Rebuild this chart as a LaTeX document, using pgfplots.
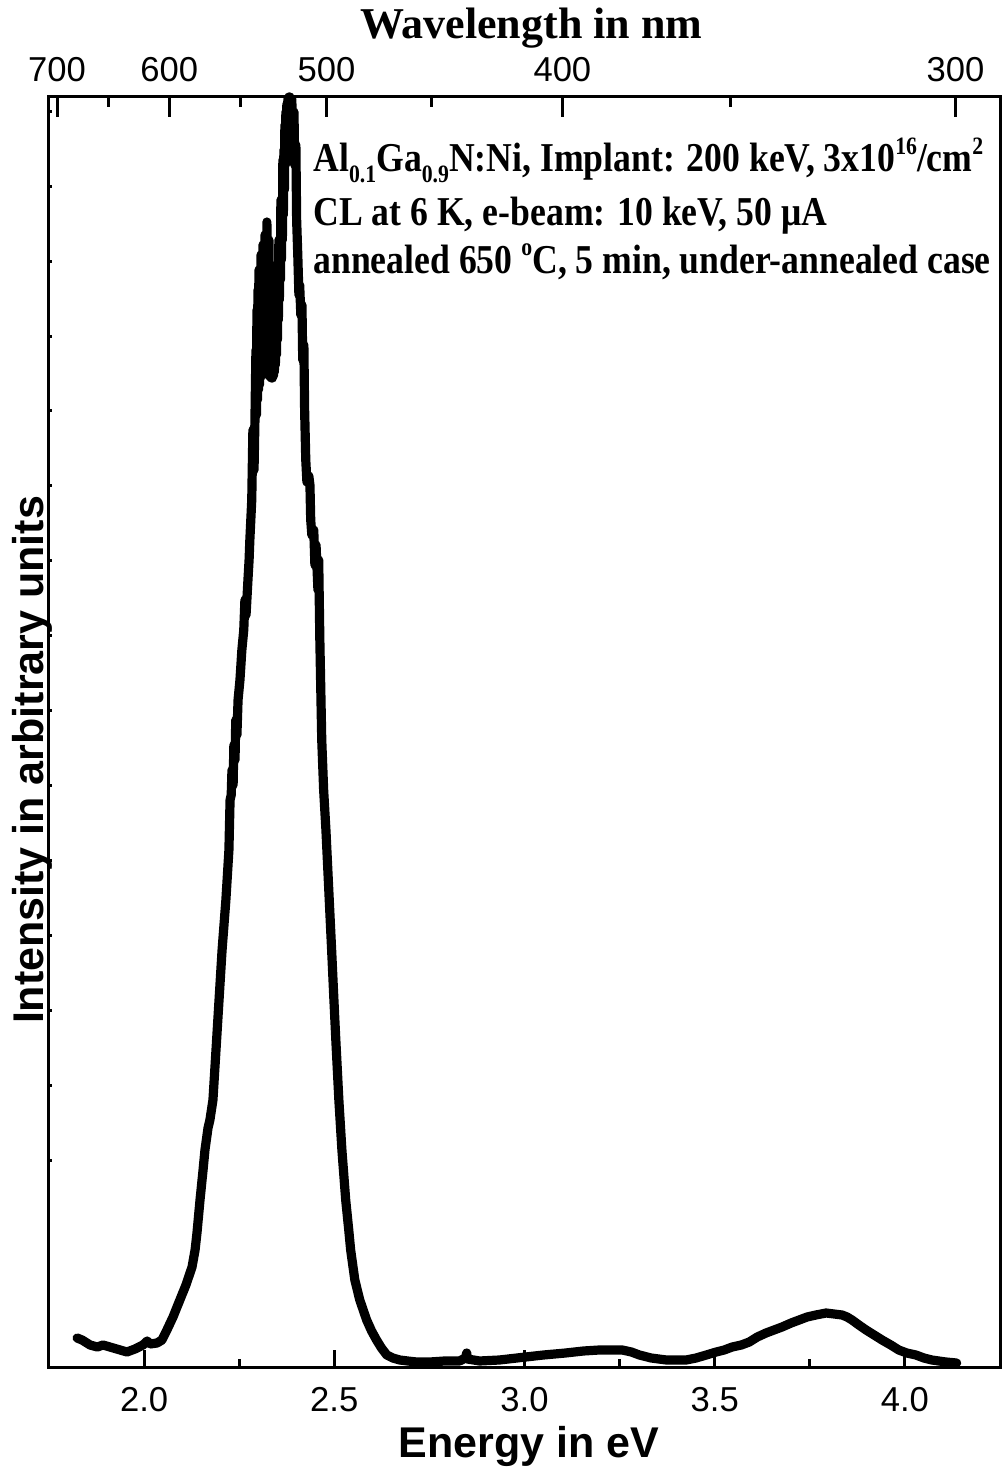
\documentclass[border=0pt]{standalone}
\usepackage{fontspec}
\setmainfont{Liberation Serif}
\newfontfamily\arial{Liberation Sans}
\usepackage{graphicx}
\usepackage{pgfplots}
\pgfplotsset{compat=1.18}
\usepackage{pgfplotstable}

% small raised / lowered indices for the sample description
\newcommand\lo[1]{\raisebox{-0.55ex}{\fontsize{12.5}{12.5}\selectfont #1}}
\newcommand\hi[1]{\raisebox{0.95ex}{\fontsize{12.5}{12.5}\selectfont #1}}
\newcommand\infoline[1]{\scalebox{0.87}[1]{\bfseries\fontsize{20.5}{22}\selectfont #1}}

% CL spectrum: photon energy (eV) vs. intensity (arb. units)
\pgfplotstableread{
E I
1.824 29
1.837 27
1.858 22
1.877 20
1.892 22
1.910 20
1.937 17
1.955 15
1.976 18
1.997 22
2.008 26
2.016 23
2.034 24
2.047 27
2.060 37
2.076 50
2.094 67
2.110 82
2.126 100
2.134 117
2.139 134
2.147 167
2.155 197
2.160 217
2.168 239
2.173 247
2.181 267
2.189 317
2.197 367
2.205 417
2.215 467
2.223 517
2.226 567
2.229 572
2.231 597
2.234 582
2.236 622
2.239 607
2.241 647
2.244 632
2.247 667
2.252 687
2.257 717
2.262 737
2.265 767
2.268 752
2.273 787
2.276 807
2.278 827
2.283 867
2.286 937
2.289 897
2.2914 947
2.2940 1017
2.2953 952
2.2966 1057
2.2979 967
2.2992 1077
2.3005 977
2.3018 1097
2.3032 982
2.3045 1067
2.3058 989
2.3071 1112
2.3084 995
2.3097 1087
2.3110 997
2.3123 1122
2.3136 1002
2.3150 1067
2.3163 1002
2.3176 1132
2.3189 999
2.3202 1102
2.3215 997
2.3228 1145
2.3241 995
2.3255 1077
2.3268 992
2.3281 1127
2.3294 991
2.3307 1027
2.3320 990
2.3333 1102
2.3346 989
2.3360 1002
2.3373 989
2.3386 1067
2.3399 991
2.3412 1037
2.3425 995
2.3438 1077
2.3451 1002
2.3465 1047
2.3478 1012
2.3491 1097
2.3504 1027
2.3517 1072
2.3530 1047
2.3543 1127
2.3556 1067
2.3570 1117
2.3583 1087
2.3596 1167
2.3609 1107
2.3622 1157
2.3635 1127
2.3648 1207
2.3661 1152
2.3675 1217
2.3688 1177
2.3701 1242
2.3714 1202
2.3727 1255
2.3740 1222
2.3753 1263
2.3766 1242
2.3780 1268
2.3793 1255
2.3806 1270
2.3832 1270
2.386 1259
2.388 1268
2.391 1242
2.394 1255
2.396 1202
2.399 1222
2.401 1147
2.404 1112
2.407 1072
2.409 1082
2.412 1052
2.415 1062
2.417 1007
2.420 1022
2.422 957
2.425 907
2.428 885
2.433 891
2.436 882
2.438 847
2.441 832
2.446 837
2.449 802
2.452 822
2.457 777
2.459 807
2.462 727
2.465 667
2.467 627
2.472 577
2.478 537
2.483 497
2.488 457
2.493 417
2.499 367
2.504 327
2.512 267
2.520 217
2.530 167
2.538 137
2.543 117
2.554 87
2.567 67
2.585 47
2.598 36
2.611 27
2.624 19
2.638 12
2.654 9
2.672 7
2.693 6
2.717 5
2.751 5
2.790 6
2.829 6
2.845 9
2.848 14
2.850 8
2.882 6
2.934 7
3.003 10
3.050 12
3.108 14
3.155 16
3.197 17
3.228 17
3.257 17
3.281 15
3.302 12
3.333 9
3.373 7
3.399 7
3.425 7
3.451 9
3.478 12
3.504 15
3.525 17
3.546 20
3.570 22
3.591 25
3.612 30
3.635 34
3.656 37
3.677 40
3.701 44
3.722 47
3.743 50
3.766 52
3.793 54
3.814 53
3.835 52
3.848 50
3.861 47
3.879 42
3.898 37
3.919 32
3.940 27
3.963 22
3.984 17
4.005 14
4.029 12
4.050 9
4.071 7
4.089 6
4.108 5
4.136 4
}\clspectrum

\begin{document}
\begin{tikzpicture}
\begin{axis}[
  name=ax,
  scale only axis,
  width=475.5pt, height=635pt,
  xmin=1.75, xmax=4.25, ymin=0, ymax=1270,
  clip=false,
  axis line style={line width=1.5pt},
  every tick/.style={black, line width=1.5pt},
  tick align=inside,
  xtick pos=lower, ytick pos=left,
  xtick={2,2.5,3,3.5,4},
  xticklabels={2.0,2.5,3.0,3.5,4.0},
  minor xtick={2.25,2.75,3.25,3.75},
  major tick length=8.5pt, minor tick length=4.25pt,
  ytick=\empty,
  extra y ticks={207,281.9,356.8,431.7,506.6,581.5,656.4,731.3,806.2,881.1,956,1030.9,1105.8,1180.7,1255.6},
  extra y tick labels={},
  extra y tick style={major tick length=1.5pt, line width=1pt},
  /pgf/number format/assume math mode=true,
  xticklabel style={font=\arial\fontsize{17.3}{20}\selectfont, anchor=base, yshift=-22pt},
  xlabel={Energy in eV},
  xlabel style={font=\arial\bfseries\fontsize{21.5}{24}\selectfont,
    at={(axis description cs:0.5047,-0.0709)}, anchor=base},
  ylabel={Intensity in arbitrary units},
  ylabel style={font=\arial\bfseries\fontsize{21.5}{24}\selectfont,
    at={(axis description cs:-0.0063,0.478)}, anchor=base, rotate=0},
]
\addplot[black, line width=4.6pt, line join=round, line cap=round]
  table[x=E, y=I] {\clspectrum};

\node[anchor=base west, inner sep=0pt] at (rel axis cs:0.2776,0.941)
  {\infoline{Al\lo{0.1}Ga\lo{0.9}N:Ni, Implant: 200 keV, 3x10\hi{16}/cm\hi{2}}};
\node[anchor=base west, inner sep=0pt] at (rel axis cs:0.2776,0.899)
  {\infoline{CL at 6 K, e-beam: 10 keV, 50 μA}};
\node[anchor=base west, inner sep=0pt] at (rel axis cs:0.2776,0.861)
  {\infoline{annealed 650 \hi{o}C, 5 min, under-annealed case}};
\end{axis}

% wavelength scale on top (lambda = 1239.84 / E)
\begin{axis}[
  at={(ax.south west)}, anchor=south west,
  scale only axis,
  width=475.5pt, height=635pt,
  xmin=1.75, xmax=4.25, ymin=0, ymax=1,
  hide y axis,
  axis x line*=top,
  axis line style={line width=1.5pt},
  every tick/.style={black, line width=1.5pt},
  tick align=inside,
  xtick={1.7712,2.0664,2.4797,3.0996,4.1328},
  xticklabels={700,600,500,400,300},
  minor xtick={1.9075,2.2543,2.7552,3.5424},
  major tick length=10pt, minor tick length=5pt,
  xticklabel style={font=\arial\fontsize{17.3}{20}\selectfont, anchor=base, yshift=7.5pt},
  xlabel={Wavelength in nm},
  xlabel style={font=\bfseries\fontsize{22}{24}\selectfont,
    at={(axis description cs:0.507,1.0457)}, anchor=base},
]
\end{axis}

\pgfresetboundingbox
\path[use as bounding box] ([xshift=-24.5pt,yshift=-51pt]ax.south west)
  rectangle ([xshift=476.5pt,yshift=683.5pt]ax.south west);
\end{tikzpicture}
\end{document}
